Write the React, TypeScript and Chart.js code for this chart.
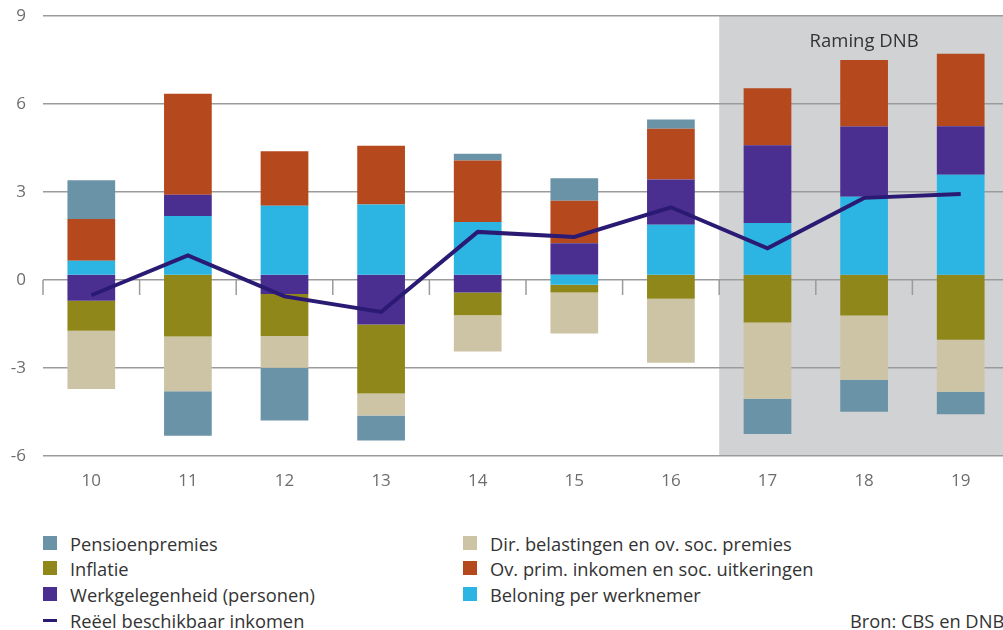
import React, { useEffect, useRef } from "react";
import { Chart, registerables } from "chart.js";

Chart.register(...registerables);

const categories = ["10", "11", "12", "13", "14", "15", "16", "17", "18", "19"];
const beloning = [0.48, 2.0, 2.35, 2.39, 1.8, -0.34, 1.7, 1.76, 2.66, 3.41];
const werkgelegenheid = [-0.89, 0.73, -0.66, -1.7, -0.61, 1.07, 1.55, 2.65, 2.39, 1.65];
const inflatie = [-1.02, -2.11, -1.43, -2.35, -0.77, -0.27, -0.82, -1.63, -1.39, -2.22];
const dirBelastingen = [-1.99, -1.86, -1.08, -0.75, -1.24, -1.39, -2.18, -2.6, -2.19, -1.77];
const ovPrim = [1.42, 3.44, 1.86, 2.01, 2.09, 1.45, 1.73, 1.95, 2.27, 2.47];
const pensioen = [1.32, -1.52, -1.8, -0.85, 0.23, 0.77, 0.31, -1.2, -1.09, -0.77];
const reeelInkomen = [-0.52, 0.84, -0.56, -1.09, 1.64, 1.47, 2.48, 1.08, 2.8, 2.93];
const yTicks = [-6, -3, 0, 3, 6, 9];
const forecastStart = 7;
const forecastLabel = "Raming DNB";
const stackBase = 0.18;

const COLORS = {
  pensioen: "#6b93a8",
  inflatie: "#8f8719",
  werk: "#4a2f91",
  dir: "#cdc4a6",
  ov: "#b5491d",
  beloning: "#2cb5e3",
  line: "#2b1a73",
};

const FONT = "'Open Sans', 'Noto Sans', sans-serif";

const stackOrder = [
  { label: "Beloning per werknemer", values: beloning, color: COLORS.beloning },
  { label: "Werkgelegenheid (personen)", values: werkgelegenheid, color: COLORS.werk },
  { label: "Inflatie", values: inflatie, color: COLORS.inflatie },
  { label: "Dir. belastingen en ov. soc. premies", values: dirBelastingen, color: COLORS.dir },
  { label: "Ov. prim. inkomen en soc. uitkeringen", values: ovPrim, color: COLORS.ov },
  { label: "Pensioenpremies", values: pensioen, color: COLORS.pensioen },
];

function buildFloating() {
  const pos = categories.map(() => stackBase);
  const neg = categories.map(() => stackBase);
  return stackOrder.map((s) => ({
    ...s,
    data: s.values.map((v, i) => {
      if (v >= 0) {
        const r: [number, number] = [pos[i], pos[i] + v];
        pos[i] += v;
        return r;
      }
      const r: [number, number] = [neg[i] + v, neg[i]];
      neg[i] += v;
      return r;
    }),
  }));
}

const GRID = "#9b9b9b";

const decorPlugin = {
  id: "decor",
  beforeDraw(chart: any) {
    const { ctx, chartArea, scales } = chart;
    const x = scales.x;
    const bx = (x.getPixelForValue(forecastStart - 1) + x.getPixelForValue(forecastStart)) / 2;
    ctx.save();
    ctx.fillStyle = "#d1d2d4";
    ctx.fillRect(bx, chartArea.top, chart.width - bx, chartArea.bottom - chartArea.top);
    ctx.fillStyle = "#333333";
    ctx.font = `18.5px ${FONT}`;
    ctx.textAlign = "center";
    ctx.textBaseline = "middle";
    ctx.fillText(forecastLabel, (bx + chartArea.right) / 2, chartArea.top + 26);
    ctx.restore();
  },
  beforeDatasetsDraw(chart: any) {
    const { ctx, scales } = chart;
    const x = scales.x;
    const y0 = scales.y.getPixelForValue(0);
    const step = x.getPixelForValue(1) - x.getPixelForValue(0);
    ctx.save();
    ctx.strokeStyle = GRID;
    ctx.lineWidth = 1.5;
    for (let k = 0; k <= categories.length; k++) {
      const px = x.getPixelForValue(0) - step / 2 + k * step;
      ctx.beginPath();
      ctx.moveTo(px, y0);
      ctx.lineTo(px, y0 + 15);
      ctx.stroke();
    }
    ctx.restore();
  },
};

function ChartCanvas() {
  const ref = useRef<HTMLCanvasElement>(null);
  useEffect(() => {
    if (!ref.current) return;
    const segs = buildFloating();
    const chart = new Chart(ref.current, {
      data: {
        labels: categories,
        datasets: [
          {
            type: "line" as const,
            label: "Reëel beschikbaar inkomen",
            data: reeelInkomen,
            borderColor: COLORS.line,
            borderWidth: 4,
            pointRadius: 0,
            tension: 0,
            order: 0,
          },
          ...segs.map((s) => ({
            type: "bar" as const,
            label: s.label,
            data: s.data as any,
            backgroundColor: s.color,
            borderWidth: 0,
            grouped: false,
            barPercentage: 1,
            categoryPercentage: 0.494,
            order: 1,
          })),
        ],
      },
      options: {
        animation: false,
        responsive: false,
        devicePixelRatio: 1,
        layout: { padding: { top: 16, left: 0, right: 0, bottom: 0 } },
        plugins: { legend: { display: false }, tooltip: { enabled: false } },
        scales: {
          x: {
            grid: { display: false, drawTicks: false },
            border: { display: false },
            ticks: { color: "#6d6d6d", font: { family: FONT, size: 17 }, padding: 15 },
            afterFit: (s: any) => {
              s.height = 44;
              s.paddingLeft = 0;
              s.paddingRight = 0;
            },
          },
          y: {
            min: -6,
            max: 9,
            afterBuildTicks: (s: any) => {
              s.ticks = yTicks.map((v) => ({ value: v }));
            },
            grid: { color: GRID, lineWidth: 1.5, drawTicks: false },
            border: { display: false },
            ticks: { color: "#6d6d6d", font: { family: FONT, size: 17 }, padding: 17 },
            afterFit: (s: any) => {
              s.width = 43;
              s.paddingTop = 0;
              s.paddingBottom = 0;
            },
          },
        },
      },
      plugins: [decorPlugin],
    });
    return () => chart.destroy();
  }, []);
  return (
    <canvas
      ref={ref}
      width={1009}
      height={500}
      style={{ position: "absolute", left: 0, top: 0, width: 1009, height: 500 }}
    />
  );
}

const legendLeft = [
  { label: "Pensioenpremies", color: COLORS.pensioen, kind: "box" },
  { label: "Inflatie", color: COLORS.inflatie, kind: "box" },
  { label: "Werkgelegenheid (personen)", color: COLORS.werk, kind: "box" },
  { label: "Reëel beschikbaar inkomen", color: COLORS.line, kind: "line" },
];
const legendRight = [
  { label: "Dir. belastingen en ov. soc. premies", color: COLORS.dir, kind: "box" },
  { label: "Ov. prim. inkomen en soc. uitkeringen", color: COLORS.ov, kind: "box" },
  { label: "Beloning per werknemer", color: COLORS.beloning, kind: "box" },
];
const sourceText = "Bron: CBS en DNB";
const LEGEND_FONT = 18.3;

function LegendItem({ item, x, y }: { item: any; x: number; y: number }) {
  return (
    <div style={{ position: "absolute", left: x, top: y - 12, height: 24, display: "flex", alignItems: "center" }}>
      {item.kind === "box" ? (
        <div style={{ width: 14, height: 14, background: item.color, flex: "none" }} />
      ) : (
        <div style={{ width: 14, height: 3, background: item.color, flex: "none" }} />
      )}
      <span style={{ marginLeft: 13, fontFamily: FONT, fontSize: LEGEND_FONT, color: "#333", whiteSpace: "nowrap" }}>
        {item.label}
      </span>
    </div>
  );
}

export default function App() {
  const rows = [543, 568, 594, 620];
  return (
    <div style={{ position: "fixed", left: 0, top: 0, width: 1011, height: 630, overflow: "hidden", background: "#fff" }}>
      <ChartCanvas />
      {legendLeft.map((it, i) => (
        <LegendItem key={it.label} item={it} x={43} y={rows[i]} />
      ))}
      {legendRight.map((it, i) => (
        <LegendItem key={it.label} item={it} x={463} y={rows[i]} />
      ))}
      <div
        style={{
          position: "absolute",
          left: 850,
          top: rows[3] - 12,
          height: 24,
          display: "flex",
          alignItems: "center",
          fontFamily: FONT,
          fontSize: LEGEND_FONT,
          color: "#333",
          whiteSpace: "nowrap",
        }}
      >
        {sourceText}
      </div>
    </div>
  );
}
